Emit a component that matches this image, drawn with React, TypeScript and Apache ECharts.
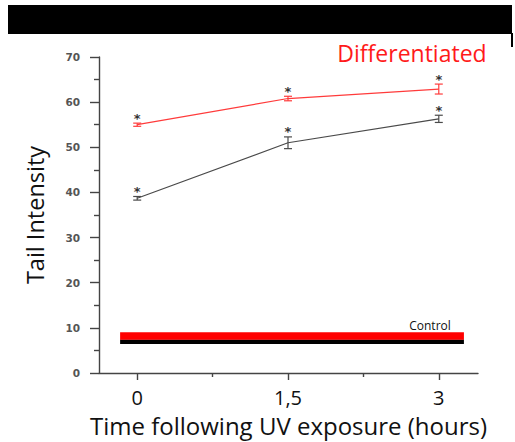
import React, { useEffect, useRef } from "react";
import * as echarts from "echarts";

const timePoints = [0, 1.5, 3];
const differentiatedMean = [55.0, 60.8, 62.9];
const differentiatedErr = [0.35, 0.5, 1.1];
const undifferentiatedMean = [38.7, 51.0, 56.3];
const undifferentiatedErr = [0.4, 1.3, 0.8];
const controlRange = [-0.17, 3.25];
const controlRed = 8.2;
const controlBlack = 6.9;
const xTickLabels = [0, 1.5, 3];
const xMinorTicks = [0.75, 2.25];

const RED = "#ff3b3b";
const GREY = "#4a4a4a";

function errorSeries(name: string, means: number[], errs: number[], color: string) {
  const data = timePoints.map((t, i) => [t, means[i] - errs[i], means[i] + errs[i]]);
  return {
    type: "custom",
    name,
    z: 5,
    data,
    renderItem: (params: any, api: any) => {
      const x = api.value(0);
      const lo = api.coord([x, api.value(1)]);
      const hi = api.coord([x, api.value(2)]);
      const cap = 4;
      return {
        type: "group",
        children: [
          { type: "line", shape: { x1: lo[0], y1: lo[1], x2: hi[0], y2: hi[1] }, style: { stroke: color, lineWidth: 1.2 } },
          { type: "line", shape: { x1: lo[0] - cap, y1: lo[1], x2: lo[0] + cap, y2: lo[1] }, style: { stroke: color, lineWidth: 1.2 } },
          { type: "line", shape: { x1: hi[0] - cap, y1: hi[1], x2: hi[0] + cap, y2: hi[1] }, style: { stroke: color, lineWidth: 1.2 } },
          {
            type: "text",
            x: hi[0],
            y: hi[1] - 5,
            style: { text: "*", fill: "#333", font: "bold 13px 'DejaVu Sans'", align: "center", verticalAlign: "middle" },
          },
        ],
      };
    },
  };
}

export default function App() {
  const ref = useRef<HTMLDivElement>(null);
  useEffect(() => {
    document.body.style.margin = "0";
    const chart = echarts.init(ref.current!, undefined, { renderer: "svg" });
    const xBase = {
      type: "value",
      min: -0.38,
      max: 3.39,
      splitLine: { show: false },
    };
    chart.setOption({
      animation: false,
      backgroundColor: "#fff",
      grid: { left: 99, right: 37, top: 57, bottom: 68 },
      xAxis: [
        {
          ...xBase,
          name: "Time following UV exposure (hours)",
          nameLocation: "middle",
          nameGap: 40,
          nameTextStyle: { fontFamily: "Open Sans", fontSize: 24, color: "#111", lineHeight: 24 },
          axisLine: { onZero: false, lineStyle: { color: "#444", width: 1.4 } },
          axisTick: { show: true, customValues: xTickLabels, inside: false, length: 7, lineStyle: { color: "#444", width: 1.4 } },
          axisLabel: {
            customValues: xTickLabels,
            margin: 15,
            fontFamily: "Open Sans",
            fontSize: 20,
            lineHeight: 18,
            color: "#111",
            formatter: (v: number) => String(v).replace(".", ","),
          },
        },
        {
          ...xBase,
          position: "bottom",
          axisLine: { show: false, onZero: false },
          axisTick: { show: true, customValues: xMinorTicks, length: 4, lineStyle: { color: "#444", width: 1.4 } },
          axisLabel: { show: false },
        },
      ],
      yAxis: {
        type: "value",
        min: 0,
        max: 70,
        interval: 10,
        name: "Tail Intensity",
        nameLocation: "middle",
        nameGap: 52,
        nameTextStyle: { fontFamily: "Open Sans", fontSize: 23.5, color: "#111" },
        axisLine: { show: true, onZero: false, lineStyle: { color: "#444", width: 1.4 } },
        axisTick: { show: true, length: 9, lineStyle: { color: "#444", width: 1.4 } },
        minorTick: { show: true, splitNumber: 2, length: 5, lineStyle: { color: "#444", width: 1.4 } },
        splitLine: { show: false },
        axisLabel: { margin: 19, fontFamily: "DejaVu Sans", fontWeight: "bold", fontSize: 10.5, color: "#555" },
      },
      series: [
        {
          type: "line",
          data: [[controlRange[0], controlBlack], [controlRange[1], controlBlack]],
          showSymbol: false,
          lineStyle: { color: "#000", width: 4.5, cap: "butt" },
          z: 2,
        },
        {
          type: "line",
          data: [[controlRange[0], controlRed], [controlRange[1], controlRed]],
          showSymbol: false,
          lineStyle: { color: "#ff0000", width: 7.5, cap: "butt" },
          z: 3,
        },
        {
          type: "line",
          data: timePoints.map((t, i) => [t, differentiatedMean[i]]),
          showSymbol: false,
          lineStyle: { color: RED, width: 1.2 },
          z: 4,
        },
        {
          type: "line",
          data: timePoints.map((t, i) => [t, undifferentiatedMean[i]]),
          showSymbol: false,
          lineStyle: { color: GREY, width: 1.2 },
          z: 4,
        },
        errorSeries("Differentiated", differentiatedMean, differentiatedErr, RED),
        errorSeries("Undifferentiated", undifferentiatedMean, undifferentiatedErr, GREY),
      ],
      graphic: [
        { type: "rect", shape: { x: 8, y: 5, width: 504, height: 29 }, style: { fill: "#000" } },
        { type: "rect", shape: { x: 511, y: 33, width: 2, height: 14 }, style: { fill: "#000" } },
        {
          type: "text",
          x: 412,
          y: 53,
          style: { text: "Differentiated", fill: "#ff1a1a", font: "23px 'Open Sans'", align: "center", verticalAlign: "middle" },
        },
        {
          type: "text",
          x: 430,
          y: 325,
          style: { text: "Control", fill: "#111", font: "12px 'Open Sans'", align: "center", verticalAlign: "middle" },
        },
      ],
    });
    return () => chart.dispose();
  }, []);
  return <div ref={ref} style={{ width: 515, height: 442 }} />;
}
